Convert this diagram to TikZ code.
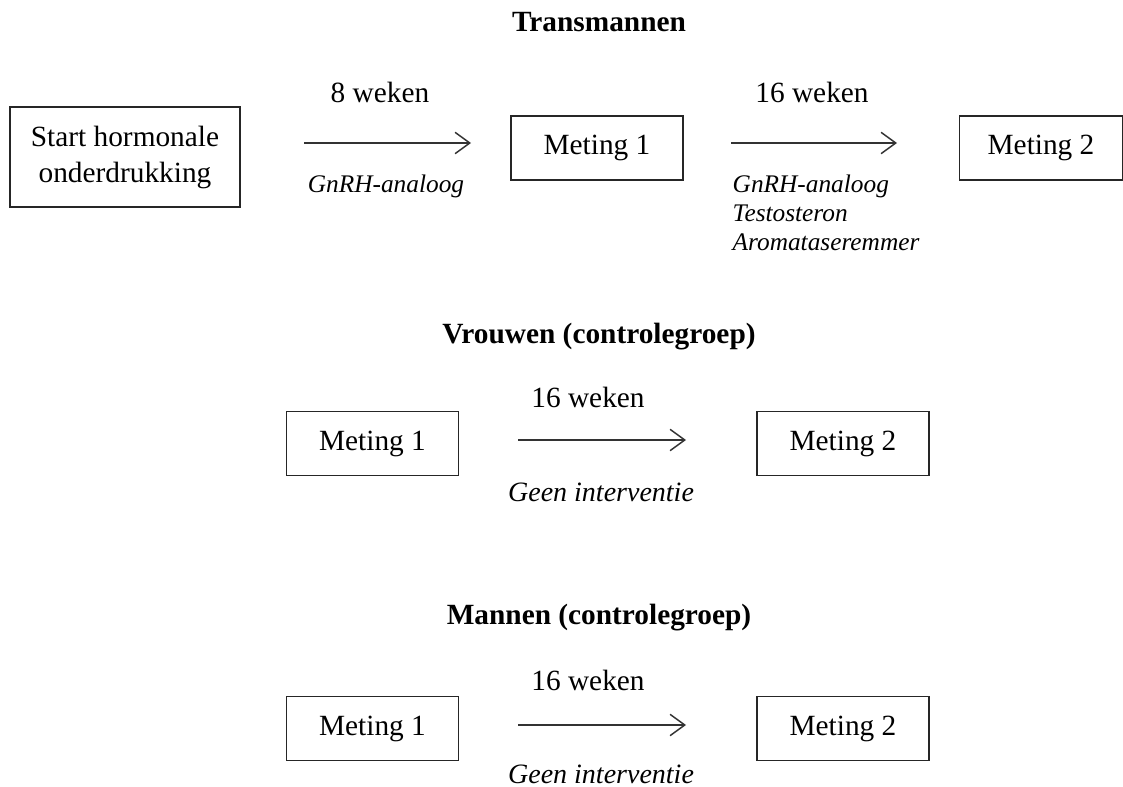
\documentclass[tikz,border=0pt]{standalone}
\usepackage{fontspec}
\setmainfont{Liberation Serif}
\usetikzlibrary{arrows.meta}
\begin{document}
\begin{tikzpicture}[x=0.75pt,y=-0.75pt,
  box/.style={draw=black!85, line width=1.1pt, inner sep=0pt, align=center,
    font=\fontsize{22}{27}\selectfont, minimum width=129pt, minimum height=48pt},
  title/.style={font=\fontsize{22}{26}\selectfont\bfseries},
  dur/.style={font=\fontsize{22}{26}\selectfont},
  med/.style={font=\fontsize{19}{22}\selectfont\itshape, align=left},
  none/.style={inner sep=0pt, anchor=base, font=\fontsize{21}{25}\selectfont\itshape},
  flow/.style={draw=black!80, line width=1.1pt, -{Straight Barb[length=11pt,width=16pt,line width=1.1pt]}}]
\useasboundingbox (0,0) rectangle (1123,787);

% Transmannen
\node[title] (t1) at (599,22) {Transmannen};
\node[box, minimum width=172.5pt, minimum height=75pt] (start) at (125,157) {Start hormonale\\onderdrukking};
\node[box] (tm1) at (597,148) {Meting 1};
\node[box, minimum width=122pt] (tm2) at (1041,148) {Meting 2};
\coordinate (a1s) at (304,143);
\coordinate (a1e) at (471,143);
\coordinate (a2s) at (731,143);
\coordinate (a2e) at (897,143);
\draw[flow] (a1s) -- (a1e);
\draw[flow] (a2s) -- (a2e);
\node[dur] (w1) at (380,92) {8 weken};
\node[dur] (w2) at (812,92) {16 weken};
\node[med] (g1) at (386,186) {GnRH-analoog};
\node[med, anchor=north west] (g2) at (728,170) {GnRH-analoog\\Testosteron\\Aromataseremmer};

% Vrouwen
\node[title] (t2) at (599,337) {Vrouwen (controlegroep)};
\node[box] (vm1) at (372.5,443.5) {Meting 1};
\node[box] (vm2) at (843,443.5) {Meting 2};
\coordinate (v1s) at (518,440);
\coordinate (v1e) at (686,440);
\draw[flow] (v1s) -- (v1e);
\node[dur] (vw) at (588,397) {16 weken};
\node[none] (vg) at (601,501) {Geen interventie};

% Mannen
\node[title] (t3) at (599,618) {Mannen (controlegroep)};
\node[box] (mm1) at (372.5,728.5) {Meting 1};
\node[box] (mm2) at (843,728.5) {Meting 2};
\coordinate (m1s) at (518,725);
\coordinate (m1e) at (686,725);
\draw[flow] (m1s) -- (m1e);
\node[dur] (mw) at (588,680) {16 weken};
\node[none] (mg) at (601,783) {Geen interventie};
\end{tikzpicture}
\end{document}
